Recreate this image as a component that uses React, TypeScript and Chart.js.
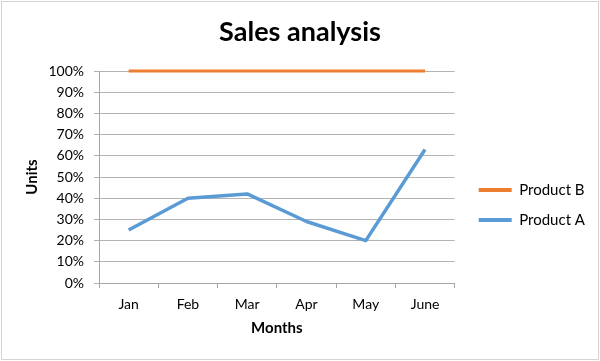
import React, { useEffect, useRef } from 'react';
import { Chart, registerables } from 'chart.js';

Chart.register(...registerables);

const months = ['Jan', 'Feb', 'Mar', 'Apr', 'May', 'June'];
const productA = [25, 40, 42, 29, 20, 63];
const productB = [100, 100, 100, 100, 100, 100];
const seriesNames = ['Product A', 'Product B'];
const chartTitle = 'Sales analysis';
const xTitle = 'Months';
const yTitle = 'Units';

const FONT = 'Lato';

export default function App() {
  const ref = useRef<HTMLCanvasElement>(null);

  useEffect(() => {
    if (!ref.current) return;

    const background = {
      id: 'background',
      beforeDraw(c: any) {
        const ctx = c.ctx;
        ctx.save();
        ctx.fillStyle = '#ffffff';
        ctx.fillRect(0, 0, c.width, c.height);
        ctx.strokeStyle = '#d4d4d4';
        ctx.lineWidth = 1;
        ctx.strokeRect(1.5, 1.5, c.width - 3, c.height - 3);
        ctx.restore();
      },
    };

    const boxPlace = {
      id: 'boxPlace',
      afterLayout(c: any) {
        const t = c.titleBlock;
        if (t) {
          t.left = 0;
          t.right = c.width;
        }
        const l = c.legend;
        if (!l) return;
        const dx = c.chartArea.right + 9 - l.left;
        l.left += dx;
        l.right += dx;
        const pad = 15;
        const colH = 60;
        const cur = (l.top + pad + l.bottom - colH) / 2 + 7.5;
        const dy = 190 - cur;
        l.top += dy;
        l.bottom += dy;
      },
    };

    const chart = new Chart(ref.current, {
      type: 'line',
      data: {
        labels: months,
        datasets: [
          {
            label: seriesNames[0],
            data: productA,
            borderColor: '#5b9bd5',
            backgroundColor: '#5b9bd5',
            borderWidth: 3.5,
            pointRadius: 0,
            tension: 0,
            borderJoinStyle: 'round',
            borderCapStyle: 'butt',
            clip: 6,
          },
          {
            label: seriesNames[1],
            data: productB,
            borderColor: '#ed7d31',
            backgroundColor: '#ed7d31',
            borderWidth: 3,
            pointRadius: 0,
            tension: 0,
            borderJoinStyle: 'round',
            clip: 6,
          },
        ],
      },
      options: {
        responsive: false,
        animation: false,
        layout: { padding: { left: 0, right: 14, top: 0, bottom: 0 } },
        plugins: {
          title: {
            display: true,
            text: chartTitle,
            color: '#000',
            font: { family: FONT, size: 27, weight: 'bold' },
            padding: { top: 16, bottom: 22.6 },
          },
          legend: {
            position: 'right',
            reverse: true,
            labels: {
              color: '#000',
              font: { family: FONT, size: 15 },
              boxWidth: 33,
              boxHeight: 4,
              padding: 15,
              generateLabels: (c: any) =>
                Chart.defaults.plugins.legend.labels
                  .generateLabels(c)
                  .map((it: any) => ({ ...it, lineWidth: 0 })),
            },
          },
          tooltip: { enabled: false },
        },
        scales: {
          x: {
            offset: true,
            afterFit: (s: any) => {
              s.height = 78;
            },
            grid: {
              offset: true,
              drawOnChartArea: false,
              drawTicks: true,
              tickLength: 5,
              color: '#a6a6a6',
            },
            border: { color: '#a6a6a6' },
            ticks: {
              color: '#000',
              font: { family: FONT, size: 14 },
              padding: 8,
              maxRotation: 0,
            },
            title: {
              display: true,
              text: xTitle,
              color: '#000',
              font: { family: FONT, size: 15, weight: 'bold' },
              padding: { top: 0, bottom: 24 },
            },
          },
          y: {
            min: 0,
            max: 100,
            afterFit: (s: any) => {
              s.width = 99;
            },
            grid: {
              color: '#b3b3b3',
              tickLength: 5,
            },
            border: { color: '#a6a6a6' },
            ticks: {
              stepSize: 10,
              color: '#000',
              font: { family: FONT, size: 14 },
              padding: 10,
              callback: (v: any) => `${v}%`,
            },
            title: {
              display: true,
              text: yTitle,
              color: '#000',
              font: { family: FONT, size: 15, weight: 'bold' },
              padding: { top: 23.5, bottom: 0 },
            },
          },
        },
      },
      plugins: [background, boxPlace],
    });

    return () => chart.destroy();
  }, []);

  return (
    <div style={{ position: 'absolute', left: 0, top: 0, width: 600, height: 361 }}>
      <canvas ref={ref} width={600} height={361} style={{ display: 'block' }} />
    </div>
  );
}
